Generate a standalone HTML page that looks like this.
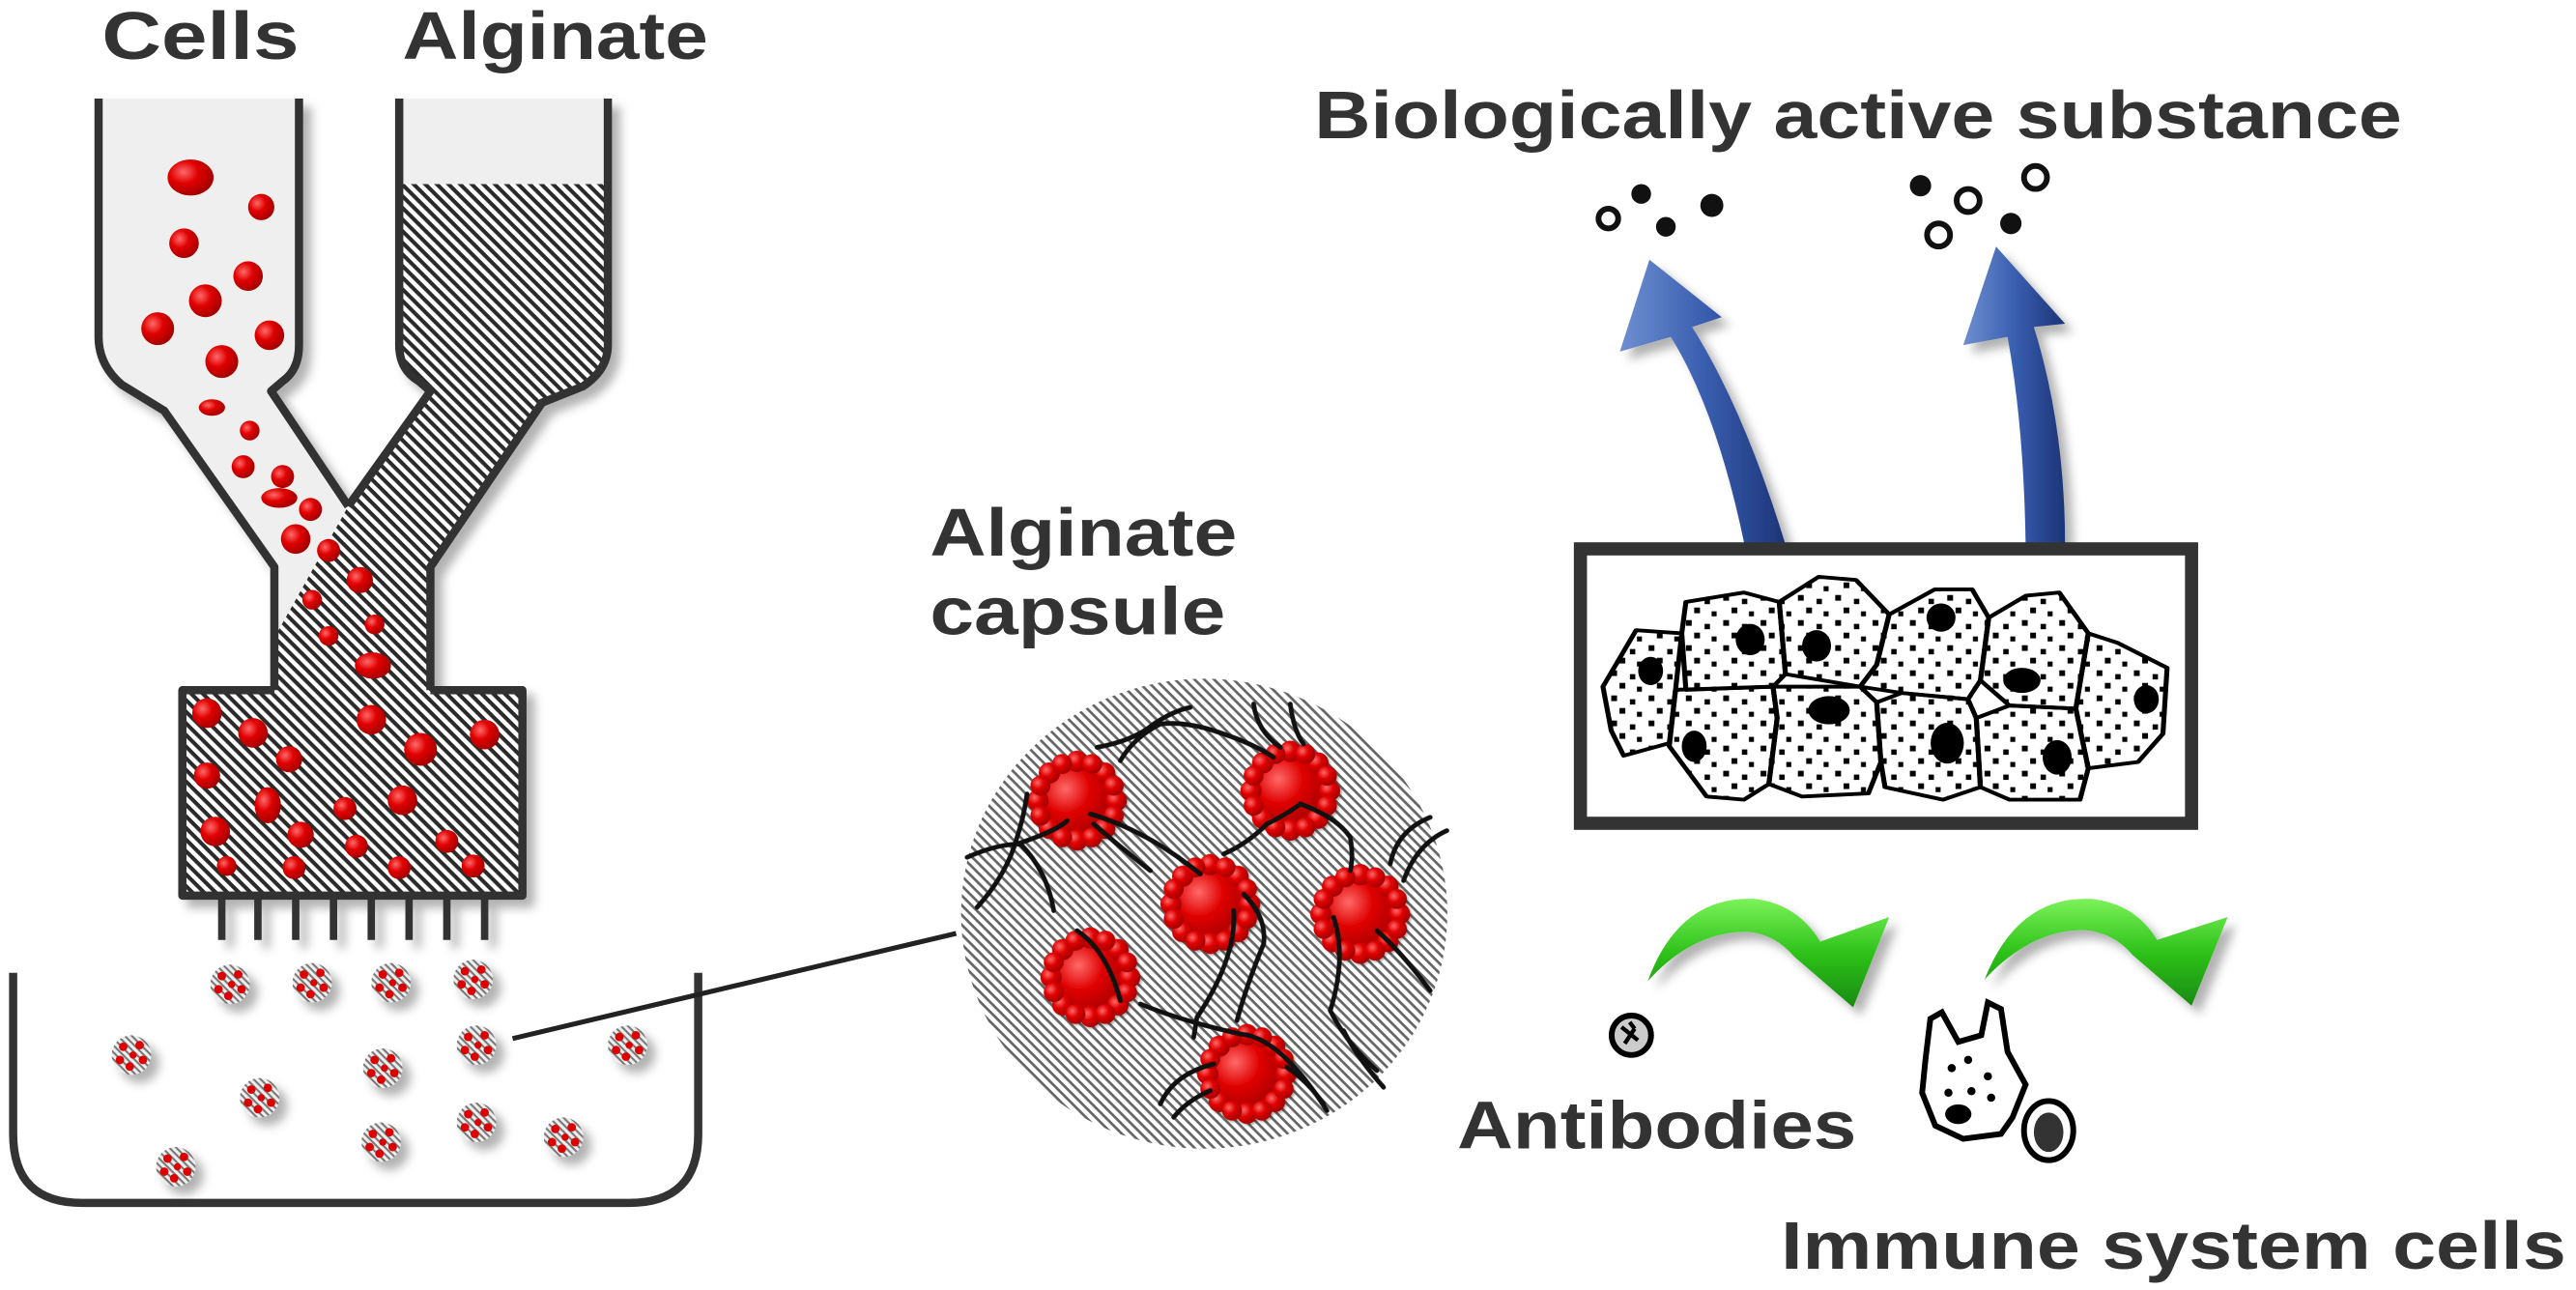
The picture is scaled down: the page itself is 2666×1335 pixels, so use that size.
<!DOCTYPE html>
<html><head><meta charset="utf-8"><style>
html,body{margin:0;padding:0;background:#fff}
svg{display:block}
text{font-family:"Liberation Sans",Arial,sans-serif;font-weight:bold;fill:#333}
</style></head><body>
<svg width="2666" height="1335" viewBox="0 0 1568 785" preserveAspectRatio="none" xmlns="http://www.w3.org/2000/svg">
<defs>
<pattern id="hd" width="5" height="5" patternUnits="userSpaceOnUse" patternTransform="rotate(45)">
<rect width="5" height="5" fill="#fff"/><rect width="5" height="2.4" fill="#2a2a2a"/></pattern>
<pattern id="hl" width="4.2" height="4.2" patternUnits="userSpaceOnUse" patternTransform="rotate(45)">
<rect width="4.2" height="4.2" fill="#fff"/><rect width="4.2" height="1.6" fill="#666"/></pattern>
<pattern id="hs" width="3" height="3" patternUnits="userSpaceOnUse" patternTransform="rotate(45)">
<rect width="3" height="3" fill="#eee"/><rect width="3" height="1.2" fill="#777"/></pattern>
<pattern id="dots" width="90" height="80" patternUnits="userSpaceOnUse">
<rect x="10" y="8" width="14" height="18"/><rect x="55" y="20" width="13" height="17"/><rect x="30" y="48" width="14" height="18"/><rect x="72" y="60" width="12" height="16"/></pattern>
<radialGradient id="rg" cx="0.35" cy="0.35" r="0.7"><stop offset="0" stop-color="#ff6a6a"/><stop offset="0.45" stop-color="#e00000"/><stop offset="1" stop-color="#a00000"/></radialGradient>
<linearGradient id="bg" x1="0" x2="1"><stop offset="0" stop-color="#6f8fd0"/><stop offset="0.5" stop-color="#3a5fb0"/><stop offset="1" stop-color="#1c3478"/></linearGradient>
<linearGradient id="gg" x1="0" y1="0" x2="0" y2="1"><stop offset="0" stop-color="#7cf25a"/><stop offset="0.5" stop-color="#2ec21a"/><stop offset="1" stop-color="#188a10"/></linearGradient>
<filter id="sh" x="-10%" y="-10%" width="130%" height="130%"><feDropShadow dx="5" dy="5" stdDeviation="3" flood-color="#000" flood-opacity="0.3"/></filter>
<g id="cap"><circle r="12" fill="url(#hs)"/><circle cx="-5" cy="-5" r="2.6" fill="#d00"/><circle cx="5" cy="-6" r="2.6" fill="#d00"/><circle cx="7" cy="3" r="2.6" fill="#d00"/><circle cx="-1" cy="7" r="2.6" fill="#d00"/><circle cx="-7" cy="3" r="2.6" fill="#d00"/><circle cx="1" cy="0" r="2.2" fill="#d00"/></g>
<g id="blob"><circle r="118" fill="url(#rg)"/><g fill="url(#rg)"><circle cx="0" cy="-118" r="32"/><circle cx="83" cy="-83" r="32"/><circle cx="118" cy="0" r="32"/><circle cx="83" cy="83" r="32"/><circle cx="0" cy="118" r="32"/><circle cx="-83" cy="83" r="32"/><circle cx="-118" cy="0" r="32"/><circle cx="-83" cy="-83" r="32"/><circle cx="45" cy="-110" r="30"/><circle cx="110" cy="-45" r="30"/><circle cx="110" cy="45" r="30"/><circle cx="45" cy="110" r="30"/><circle cx="-45" cy="110" r="30"/><circle cx="-110" cy="45" r="30"/><circle cx="-110" cy="-45" r="30"/><circle cx="-45" cy="-110" r="30"/></g></g>
</defs>

<!-- labels -->
<text x="62" y="36" font-size="41" textLength="120" lengthAdjust="spacingAndGlyphs">Cells</text>
<text x="245" y="36" font-size="41" textLength="186" lengthAdjust="spacingAndGlyphs">Alginate</text>
<text x="566" y="338" font-size="41" textLength="187" lengthAdjust="spacingAndGlyphs">Alginate</text>
<text x="566" y="386" font-size="41" textLength="180" lengthAdjust="spacingAndGlyphs">capsule</text>
<text x="800" y="84" font-size="41" textLength="662" lengthAdjust="spacingAndGlyphs">Biologically active substance</text>
<text x="887" y="699" font-size="41" textLength="243" lengthAdjust="spacingAndGlyphs">Antibodies</text>
<text x="1084" y="772" font-size="41" textLength="478" lengthAdjust="spacingAndGlyphs">Immune system cells</text>

<!-- dispenser -->
<g filter="url(#sh)">
<path d="M60,60 V205 Q60,222 74,234 L100,250 L167,345 V420 H262 V345 L212,308 L165,238 L172,232 Q182,225 182,210 V60 Z" fill="#efefef"/>
<rect x="243" y="60" width="127" height="52" fill="#efefef"/>
<path d="M243,112 H370 V210 Q370,225 355,235 L330,245 L262,345 V420 H318 V545 H111 V420 H167 V388 L212,308 L262,238 L255,232 Q243,225 243,210 Z" fill="url(#hd)"/>
<g fill="none" stroke="#333" stroke-width="5" stroke-linejoin="round">
<path d="M60,60 V205 Q60,222 74,234 L100,250 L167,345 V420"/>
<path d="M182,60 V210 Q182,225 172,232 L165,238 L212,308"/>
<path d="M243,60 V210 Q243,225 255,232 L262,238 L212,308"/>
<path d="M370,60 V210 Q370,225 355,235 L330,245 L262,345 V420"/>
<path d="M167,420 H111 V545 H318 V420 H262"/>
</g>
<g stroke="#333" stroke-width="4.5"><path d="M135,545V572M157,545V572M180,545V572M203,545V572M226,545V572M249,545V572M272,545V572M295,545V572"/></g>
</g>
<!-- red cells -->
<g fill="url(#rg)">
<ellipse cx="116" cy="108" rx="14" ry="11"/><circle cx="159" cy="126" r="8"/><circle cx="112" cy="148" r="9"/><circle cx="151" cy="168" r="9"/><circle cx="125" cy="183" r="10"/><circle cx="96" cy="200" r="10"/><circle cx="164" cy="204" r="9"/><circle cx="135" cy="220" r="10"/><ellipse cx="129" cy="248" rx="8" ry="5"/><circle cx="152" cy="262" r="6"/><circle cx="148" cy="284" r="7"/><circle cx="172" cy="290" r="7"/><ellipse cx="170" cy="303" rx="11" ry="6"/><circle cx="189" cy="310" r="7"/><circle cx="180" cy="328" r="9"/><circle cx="200" cy="335" r="7"/><circle cx="219" cy="353" r="8"/><circle cx="190" cy="365" r="6"/><circle cx="228" cy="380" r="6"/><circle cx="200" cy="387" r="6"/><ellipse cx="227" cy="405" rx="11" ry="8"/>
<circle cx="126" cy="434" r="9"/><circle cx="154" cy="446" r="9"/><circle cx="226" cy="438" r="9"/><circle cx="256" cy="456" r="10"/><circle cx="295" cy="447" r="9"/><circle cx="176" cy="462" r="8"/><circle cx="126" cy="472" r="8"/><ellipse cx="163" cy="490" rx="8" ry="11"/><circle cx="210" cy="492" r="7"/><circle cx="245" cy="487" r="9"/><circle cx="131" cy="506" r="9"/><circle cx="183" cy="508" r="8"/><circle cx="217" cy="515" r="7"/><circle cx="272" cy="512" r="7"/><circle cx="138" cy="527" r="6"/><circle cx="179" cy="528" r="7"/><circle cx="243" cy="528" r="7"/><circle cx="288" cy="527" r="7"/>
</g>

<!-- beaker -->
<path d="M8,592 V690 Q8,732 50,732 H383 Q425,732 425,690 V592" fill="none" stroke="#333" stroke-width="5"/>
<g filter="url(#sh)">
<use href="#cap" x="140" y="599"/><use href="#cap" x="190" y="598"/><use href="#cap" x="238" y="598"/><use href="#cap" x="288" y="596"/><use href="#cap" x="80" y="642"/><use href="#cap" x="290" y="636"/><use href="#cap" x="382" y="636"/><use href="#cap" x="233" y="650"/><use href="#cap" x="158" y="668"/><use href="#cap" x="232" y="695"/><use href="#cap" x="290" y="683"/><use href="#cap" x="343" y="692"/><use href="#cap" x="107" y="710"/>
</g>
<line x1="312" y1="632" x2="582" y2="568" stroke="#222" stroke-width="3"/>

<!-- capsule zoom -->
<ellipse cx="733" cy="556" rx="148" ry="143" fill="url(#hl)"/>
<g transform="translate(576.5,400) scale(0.2028)">
<g filter="url(#sh)">
<use href="#blob" x="390" y="430"/><use href="#blob" x="1030" y="400"/><use href="#blob" x="790" y="740"/><use href="#blob" x="1240" y="770"/><use href="#blob" x="430" y="960"/><use href="#blob" x="900" y="1250"/>
</g>
<g fill="none" stroke="#111" stroke-width="14" stroke-linecap="round">
<path d="M60,600 Q150,560 220,560 Q300,640 320,760"/><path d="M90,750 Q180,650 210,540 Q230,480 240,410"/><path d="M210,560 Q330,520 360,490"/>
<path d="M450,270 Q560,250 620,200 Q680,160 730,150"/><path d="M520,310 Q560,240 640,200 Q720,190 830,230 Q920,260 980,300"/><path d="M920,140 Q930,220 1000,270"/><path d="M1030,140 Q1040,220 1070,260"/>
<path d="M430,470 Q600,520 760,650"/><path d="M440,500 Q520,570 610,640"/><path d="M830,590 Q900,560 960,500 Q1020,470 1060,440"/><path d="M1060,440 Q1170,480 1210,540 Q1220,600 1210,640"/>
<path d="M1330,620 Q1350,520 1450,480"/><path d="M1370,670 Q1410,560 1500,520"/><path d="M1290,820 Q1360,880 1450,1000"/>
<path d="M860,760 Q870,900 750,1080 L740,1140"/><path d="M890,710 Q960,780 950,860 Q900,980 870,1090"/><path d="M390,820 Q480,880 520,1030"/><path d="M580,1040 Q700,1090 880,1130 Q1000,1140 1140,1360"/>
<path d="M1160,780 Q1200,900 1150,1060 Q1200,1160 1290,1240"/><path d="M1190,1120 Q1230,1200 1310,1290"/><path d="M640,1340 Q680,1250 800,1220"/><path d="M680,1380 Q720,1330 790,1300"/><path d="M1020,1230 Q1080,1270 1130,1340"/>
</g>
</g>

<!-- blue arrows -->
<g filter="url(#sh)" fill="url(#bg)">
<path d="M1062,332 Q1045,250 1017,205 L986,214 L1004,158 L1048,193 L1030,199 Q1062,250 1087,332 Z"/>
<path d="M1233,332 Q1232,260 1222,205 L1195,210 L1215,150 L1257,197 L1238,199 Q1257,260 1257,332 Z"/>
</g>
<!-- cell box -->
<rect x="962" y="334" width="372" height="167" fill="#fff" stroke="#333" stroke-width="8"/>
<g transform="translate(955.5,330) scale(0.2525,0.191)" stroke="#000" stroke-width="12" stroke-linejoin="round">
<g fill="url(#dots)">
<path d="M80,460 L160,280 L270,290 L255,470 L240,640 L130,680 L100,600 Z"/>
<path d="M270,290 L280,190 L420,160 L505,190 L520,420 L490,460 L280,470 Z"/>
<path d="M505,190 L600,110 L690,120 L770,230 L740,390 L700,460 L520,420 Z"/>
<path d="M770,230 L880,150 L970,150 L1010,240 L990,440 L960,500 L800,480 L700,460 L740,390 Z"/>
<path d="M1010,240 L1100,170 L1180,160 L1250,290 L1220,530 L1060,520 L990,440 Z"/>
<path d="M1250,290 L1320,320 L1440,400 L1430,610 L1370,700 L1250,720 L1220,530 Z"/>
<path d="M255,470 L490,460 L500,560 L480,770 L420,820 L330,810 L240,650 Z"/>
<path d="M490,460 L700,460 L740,510 L750,700 L720,800 L560,810 L480,770 L500,560 Z"/>
<path d="M740,510 L800,480 L960,500 L980,560 L990,780 L900,820 L760,780 L750,700 Z"/>
<path d="M980,560 L1060,520 L1220,530 L1250,720 L1230,820 L1060,820 L990,780 Z"/>
</g>
<g fill="#000" stroke="none">
<ellipse cx="195" cy="410" rx="30" ry="45"/><ellipse cx="435" cy="310" rx="35" ry="50"/><ellipse cx="595" cy="330" rx="35" ry="50"/><ellipse cx="895" cy="240" rx="35" ry="45"/><ellipse cx="1090" cy="440" rx="45" ry="40"/><ellipse cx="1390" cy="500" rx="30" ry="45"/><ellipse cx="300" cy="650" rx="30" ry="50"/><ellipse cx="625" cy="535" rx="50" ry="45"/><ellipse cx="910" cy="640" rx="40" ry="65"/><ellipse cx="1175" cy="685" rx="35" ry="55"/>
</g>
</g>
<!-- substance dots -->
<g fill="#111"><circle cx="999" cy="118" r="6"/><circle cx="1014" cy="138" r="6"/><circle cx="1042" cy="125" r="7"/><circle cx="1169" cy="113" r="6.5"/><circle cx="1224" cy="136" r="6.5"/></g>
<g fill="none" stroke="#111" stroke-width="3.5"><circle cx="979" cy="133" r="6"/><circle cx="1198" cy="122" r="7"/><circle cx="1239" cy="108" r="7"/><circle cx="1180" cy="143" r="7"/></g>

<!-- green arrows -->
<g filter="url(#sh)" fill="url(#gg)">
<path d="M1003,597 Q1022,545 1068,547 Q1094,550 1108,573 L1150,558 L1128,613 L1092,582 Q1080,568 1063,567 Q1030,567 1003,597 Z"/>
<path d="M1208,596 Q1228,545 1273,547 Q1300,550 1313,572 L1356,558 L1334,612 L1298,581 Q1286,567 1268,566 Q1236,566 1208,596 Z"/>
</g>
<!-- antibody & immune cells -->
<circle cx="993" cy="630" r="12" fill="#ccc" stroke="#000" stroke-width="3.5"/>
<path d="M987,625 l10,8 M989,635 l6,-9 M992,622 l3,4" stroke="#000" stroke-width="2.5"/>
<path d="M1172,645 L1175,620 L1182,616 L1192,634 L1206,630 L1210,610 L1218,614 L1222,640 L1233,660 L1225,680 L1218,690 L1195,693 L1178,685 L1170,665 Z" fill="#fff" stroke="#000" stroke-width="3.5"/>
<g fill="#000"><circle cx="1188" cy="650" r="2.5"/><circle cx="1198" cy="645" r="2.5"/><circle cx="1210" cy="655" r="2.5"/><circle cx="1186" cy="665" r="2.5"/><circle cx="1200" cy="664" r="2.5"/><circle cx="1212" cy="668" r="2.5"/><ellipse cx="1192" cy="678" rx="8" ry="6"/></g>
<ellipse cx="1247" cy="688" rx="15" ry="18" fill="#fff" stroke="#000" stroke-width="3.5"/>
<ellipse cx="1247" cy="689" rx="9" ry="12" fill="#333"/>
</svg>
</body></html>
